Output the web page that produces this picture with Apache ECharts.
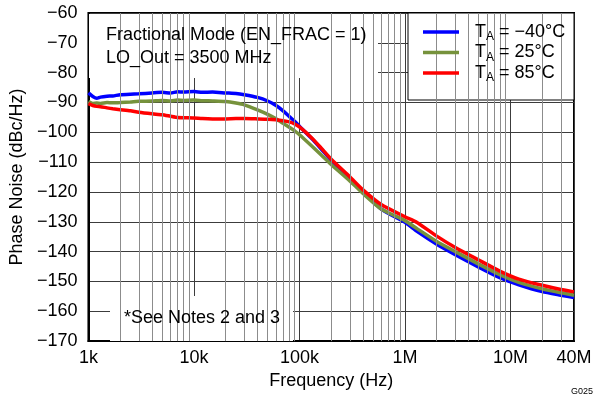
<!DOCTYPE html>
<html>
<head>
<meta charset="utf-8">
<title>Phase Noise vs Frequency</title>
<script src="https://cdn.jsdelivr.net/npm/echarts@6.0.0/dist/echarts.min.js"></script>
<style>
  html, body { margin: 0; padding: 0; background: #fff; }
  #chart { width: 595px; height: 395px; }
</style>
</head>
<body>
<div id="chart"></div>
<script>
// 频率点 (Hz)
const freqs = [1000, 1100, 1200, 1300, 1500, 1700, 2000, 2500, 3000, 4000, 5000, 6000, 7000, 8000,
  10000, 12000, 15000, 20000, 25000, 30000, 40000, 50000, 60000, 70000, 80000, 90000,
  100000, 130000, 160000, 200000, 300000, 400000, 600000,
  1e6, 1.3e6, 2e6, 3e6, 5e6, 8e6, 1.2e7, 2e7, 3e7, 4e7];

// 相位噪声 (dBc/Hz)
const noiseM40 = [-86.8, -88.0, -88.6, -88.2, -87.9, -87.8, -87.4, -87.2, -87.1, -86.8, -86.6, -86.8, -86.4, -86.5,
  -86.3, -86.6, -86.5, -86.8, -87.0, -87.4, -88.3, -89.5, -91.0, -92.8, -94.7, -96.3,
  -98.0, -102.0, -105.5, -109.4, -115.8, -120.0, -125.8,
  -130.2, -133.2, -137.5, -141.0, -145.2, -148.8, -151.1, -153.4, -154.6, -155.4];
const noise25 = [-89.7, -90.3, -90.2, -90.3, -90.0, -90.1, -90.0, -89.8, -89.6, -89.5, -89.3, -89.5, -89.2, -89.3,
  -89.2, -89.4, -89.5, -89.7, -90.2, -90.8, -92.5, -94.0, -95.5, -97.0, -98.3, -99.5,
  -100.8, -104.5, -107.5, -110.8, -116.3, -120.5, -125.8,
  -129.6, -132.3, -136.6, -140.0, -144.2, -147.8, -150.3, -152.5, -153.8, -154.6];
const noise85 = [-90.4, -91.0, -91.3, -91.4, -91.8, -92.1, -92.4, -92.8, -93.3, -93.8, -94.1, -94.6, -95.0, -95.1,
  -95.2, -95.4, -95.5, -95.5, -95.4, -95.4, -95.5, -95.6, -95.8, -96.1, -96.5, -97.2,
  -98.2, -101.8, -105.2, -109.0, -114.9, -119.3, -124.3,
  -128.3, -130.2, -134.8, -138.6, -142.8, -146.6, -149.2, -151.3, -152.7, -153.5];

// 刻度标签
const xTickValues = [1e3, 1e4, 1e5, 1e6, 1e7, 4e7];
const xTickLabels = ['1k', '10k', '100k', '1M', '10M', '40M'];
const minorFreqs = [2e3, 3e3, 4e3, 5e3, 6e3, 7e3, 8e3, 9e3,
  2e4, 3e4, 4e4, 5e4, 6e4, 7e4, 8e4, 9e4,
  2e5, 3e5, 4e5, 5e5, 6e5, 7e5, 8e5, 9e5,
  2e6, 3e6, 4e6, 5e6, 6e6, 7e6, 8e6, 9e6,
  2e7, 3e7];

const seriesNames = ['TA = -40°C', 'TA = 25°C', 'TA = 85°C'];
const legendLabels = ['{a|T}{b|A}{a| = \u221240°C}', '{a|T}{b|A}{a| = 25°C}', '{a|T}{b|A}{a| = 85°C}'];
const colors = ['#0000ff', '#76923c', '#ff0000'];

const FONT = '"Liberation Sans", Arial, sans-serif';

function pairs(ys) {
  return freqs.map((f, i) => [f, ys[i]]);
}

function fmtX(v) {
  const i = xTickValues.findIndex(t => Math.abs(t - v) / t < 1e-3);
  return i >= 0 ? xTickLabels[i] : '';
}

function fmtY(v) {
  return v < 0 ? '\u2212' + Math.abs(v) : String(v);
}

const chart = echarts.init(document.getElementById('chart'), null, { renderer: 'canvas' });

const curve = (name, data, color) => ({
  name,
  type: 'line',
  data: pairs(data),
  showSymbol: false,
  smooth: 0.2,
  z: 4,
  lineStyle: { color, width: 3.5 },
  itemStyle: { color },
  animation: false
});

chart.setOption({
  animation: false,
  textStyle: { fontFamily: FONT },
  grid: { left: 88, top: 13, width: 486, height: 329, show: true, borderColor: '#000', borderWidth: 2 },
  xAxis: {
    type: 'log',
    logBase: 10,
    min: 1000,
    max: 4e7,
    name: 'Frequency (Hz)',
    nameLocation: 'middle',
    nameGap: 27,
    nameTextStyle: { fontSize: 18, color: '#000', fontFamily: FONT },
    axisLine: { lineStyle: { color: '#000', width: 2 } },
    axisTick: { show: false },
    axisLabel: { fontSize: 18, color: '#000', margin: 8, formatter: fmtX, fontFamily: FONT },
    splitLine: { show: true, lineStyle: { color: '#3c3c3c', width: 1 } },
    minorTick: { show: false }
  },
  yAxis: {
    type: 'value',
    min: -170,
    max: -60,
    interval: 10,
    name: 'Phase Noise (dBc/Hz)',
    nameLocation: 'middle',
    nameGap: 60,
    nameTextStyle: { fontSize: 18, color: '#000', fontFamily: FONT },
    axisLine: { lineStyle: { color: '#000', width: 2 } },
    axisTick: { show: false },
    axisLabel: { fontSize: 18, color: '#000', margin: 11, formatter: fmtY, fontFamily: FONT },
    splitLine: { show: true, lineStyle: { color: '#3c3c3c', width: 1 } }
  },
  legend: {
    data: seriesNames,
    orient: 'vertical',
    left: 423,
    top: 23,
    padding: 0,
    itemGap: 0.5,
    itemWidth: 36,
    itemHeight: 3.5,
    icon: 'rect',
    z: 6,
    formatter: name => legendLabels[seriesNames.indexOf(name)],
    textStyle: {
      color: '#000',
      padding: [0, 0, 0, 11],
      rich: {
        a: { fontSize: 18, lineHeight: 22, fontFamily: FONT, color: '#000' },
        b: { fontSize: 12, lineHeight: 12, verticalAlign: 'bottom', fontFamily: FONT, color: '#000' }
      }
    }
  },
  graphic: [
    // 注释框（遮住网格线）
    { type: 'rect', z: 5, shape: { x: 89, y: 14, width: 289, height: 64 }, style: { fill: '#fff' } },
    { type: 'rect', z: 5, shape: { x: 408, y: 13, width: 166, height: 87 }, style: { fill: '#fff', stroke: '#000', lineWidth: 1 } },
    { type: 'rect', z: 5, shape: { x: 110, y: 296, width: 183, height: 45 }, style: { fill: '#fff' } },
    {
      type: 'text', z: 6, left: 106, top: 24,
      style: { text: 'Fractional Mode (EN_FRAC = 1)\nLO_Out = 3500 MHz', font: '18px ' + FONT, lineHeight: 22.5, fill: '#000' }
    },
    {
      type: 'text', z: 6, left: 124, top: 309,
      style: { text: '*See Notes 2 and 3', font: '18px ' + FONT, fill: '#000' }
    },
    {
      type: 'text', z: 6, left: 571, top: 387,
      style: { text: 'G025', font: '9px ' + FONT, fill: '#000' }
    }
  ],
  series: [
    {
      // 次网格线
      name: 'minor-grid',
      type: 'line',
      data: [],
      z: 1,
      silent: true,
      markLine: {
        silent: true,
        symbol: ['none', 'none'],
        label: { show: false },
        animation: false,
        lineStyle: { color: '#8c8c8c', width: 1, type: 'solid' },
        data: minorFreqs.map(f => ({ xAxis: f }))
      }
    },
    curve(seriesNames[0], noiseM40, colors[0]),
    curve(seriesNames[1], noise25, colors[1]),
    curve(seriesNames[2], noise85, colors[2])
  ]
});
</script>
</body>
</html>
